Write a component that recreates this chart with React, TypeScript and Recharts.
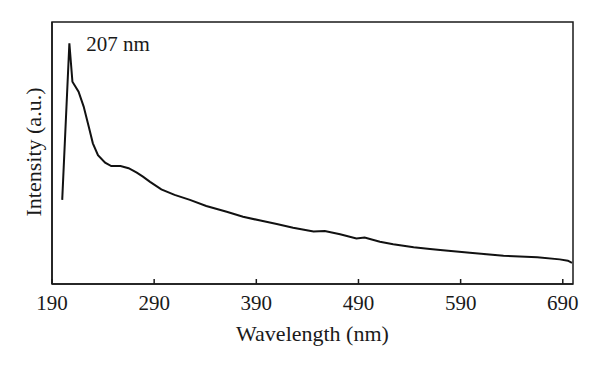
import {
  LineChart,
  Line,
  XAxis,
  YAxis,
  ReferenceArea,
  ReferenceDot,
  Label,
} from "recharts";

// wavelength (nm)
const wavelength = [
  200, 207, 210, 216, 221, 226, 230, 235, 242, 248, 257, 265, 273, 279, 286,
  297, 310, 325, 341, 361, 377, 394, 410, 426, 446, 457, 472, 488, 496, 511,
  524, 544, 560, 570, 599, 632, 665, 687, 695, 699,
];
// intensity in arbitrary units (0..100 = bottom..top of frame)
const intensity = [
  32.1, 91.9, 77.2, 73.4, 67.7, 60.0, 53.7, 49.2, 46.3, 45.0, 45.0, 44.2, 42.5,
  41.0, 39.0, 36.1, 34.0, 32.1, 29.8, 27.6, 25.7, 24.2, 22.9, 21.5, 20.0, 20.2,
  19.0, 17.4, 17.7, 16.1, 15.2, 14.0, 13.4, 13.0, 11.9, 10.8, 10.2, 9.4, 8.9,
  8.1,
];
const xTicks = [190, 290, 390, 490, 590, 690];
const peakLabel = "207 nm";

const data = wavelength.map((w, i) => ({ w, v: intensity[i] }));

const FONT = "'Liberation Serif', 'DejaVu Serif', serif";
const INK = "#1a1a1a";

export default function App() {
  return (
    <div style={{ position: "absolute", left: 0, top: 0, background: "#fff" }}>
      <LineChart
        width={600}
        height={369}
        data={data}
        margin={{ top: 22, right: 27, bottom: 0, left: 0 }}
      >
        <XAxis
          dataKey="w"
          type="number"
          domain={[190, 700]}
          ticks={xTicks}
          allowDataOverflow
          height={85}
          stroke={INK}
          strokeWidth={1.5}
          tickSize={-5}
          tickMargin={16}
          tick={{ fill: INK, fontSize: 21, fontFamily: FONT }}
        >
          <Label
            value="Wavelength (nm)"
            position="insideBottom"
            offset={28}
            fill={INK}
            fontSize={22}
            fontFamily={FONT}
          />
        </XAxis>
        <YAxis
          type="number"
          domain={[0, 100]}
          width={52}
          tick={false}
          tickLine={false}
          stroke={INK}
          strokeWidth={1.5}
        >
          <Label
            content={() => (
              <text
                x={33}
                y={152}
                transform="rotate(-90 33 152)"
                textAnchor="middle"
                dominantBaseline="central"
                fill={INK}
                fontSize={22}
                fontFamily={FONT}
              >
                Intensity (a.u.)
              </text>
            )}
          />
        </YAxis>
        <ReferenceArea
          x1={190}
          x2={700}
          y1={0}
          y2={100}
          fill="none"
          stroke={INK}
          strokeWidth={1.5}
          ifOverflow="visible"
        />
        <Line
          dataKey="v"
          type="linear"
          stroke="#111"
          strokeWidth={2}
          dot={false}
          isAnimationActive={false}
        />
        <ReferenceDot
          x={207}
          y={91.9}
          r={0}
          stroke="none"
          label={{
            value: peakLabel,
            position: "right",
            offset: 17,
            fill: INK,
            fontSize: 21,
            fontFamily: FONT,
          }}
        />
      </LineChart>
    </div>
  );
}
